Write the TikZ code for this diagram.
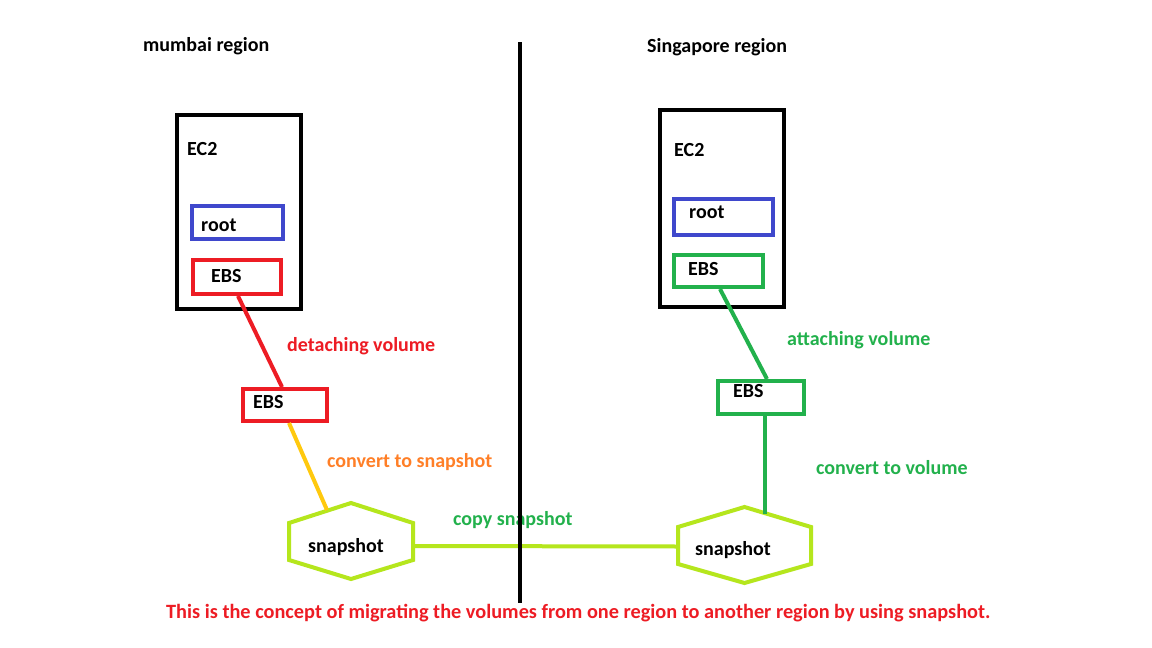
\documentclass[tikz,border=0pt]{standalone}
\usepackage{fontspec}
\setmainfont{Carlito}
\usepackage{xcolor}
\usetikzlibrary{calc}
\definecolor{pblack}{RGB}{0,0,0}
\definecolor{pblue}{RGB}{63,72,204}
\definecolor{pred}{RGB}{237,28,36}
\definecolor{pgreen}{RGB}{34,177,76}
\definecolor{plime}{RGB}{181,230,29}
\definecolor{pgold}{RGB}{255,201,14}
\definecolor{porange}{RGB}{255,127,39}
\tikzset{
	box/.style={draw, line width=4pt, inner sep=0pt},
	txt/.style={anchor=base west, inner sep=0pt, font=\fontsize{20}{22}\selectfont\bfseries},
	link/.style={line width=4pt}
}

\begin{document}
\begin{tikzpicture}[x=1pt, y=-1pt]
		\useasboundingbox[fill=white] (0, 0) rectangle (1152, 648);
		\node[box, pblack, minimum width=124pt, minimum height=194pt] (ec2L) at (239, 212) {};
		\node[box, pblack, minimum width=124pt, minimum height=197pt] (ec2R) at (722, 208.5) {};
		\node[box, pblue, minimum width=91pt, minimum height=33pt] (rootL) at (237.5, 222.5) {};
		\node[box, pblue, minimum width=99pt, minimum height=36pt] (rootR) at (723.5, 217) {};
		\node[box, pred, minimum width=88pt, minimum height=34pt] (ebsL) at (237, 277) {};
		\node[box, pgreen, minimum width=89pt, minimum height=32pt] (ebsR) at (718.5, 271) {};
		\node[box, pred, minimum width=84pt, minimum height=32pt] (ebsLB) at (285, 405) {};
		\node[box, pgreen, minimum width=86pt, minimum height=33pt] (ebsRB) at (761, 397.5) {};
		\coordinate (hexL) at (351, 541);
		\coordinate (hexR) at (744.5, 545);
		\draw[link, plime] ($(hexL)+(0,-38)$) -- ++(-62, 20) -- ++(0, 37) -- ++(62, 19) -- ++(62, -19) -- ++(0, -37) -- cycle;
		\draw[link, plime] ($(hexR)+(0,-38)$) -- ++(-66.5, 20) -- ++(0, 37) -- ++(66.5, 19) -- ++(66.5, -19) -- ++(0, -37) -- cycle;
		\draw[link, pred] ([xshift=1pt]ebsL.south) -- ([xshift=-3pt]ebsLB.north);
		\draw[link, pgold] ([xshift=4pt]ebsLB.south) -- ($(hexL)+(-24,-31)$);
		\draw[link, pgreen] ([xshift=1.5pt]ebsR.south) -- ([xshift=6pt]ebsRB.north);
		\draw[link, pgreen] ([xshift=4pt]ebsRB.south) -- ($(hexR)+(20.5,-31)$);
		\draw[link, plime] ($(hexL)+(62,5)$) -- ($(hexR)+(-66.5,1.5)$);
		\node[txt] (mumbai) at (143, 51) {mumbai region};
		\node[txt] (singapore) at (647, 52) {Singapore region};
		\node[txt] (ec2Ltxt) at (187, 155) {EC2};
		\node[txt] (ec2Rtxt) at (674, 156) {EC2};
		\node[txt] (rootLtxt) at (201, 231) {root};
		\node[txt] (rootRtxt) at (689, 218) {root};
		\node[txt] (ebsLtxt) at (211, 282) {EBS};
		\node[txt] (ebsRtxt) at (688, 275) {EBS};
		\node[txt] (ebsLBtxt) at (253, 408) {EBS};
		\node[txt] (ebsRBtxt) at (733, 397) {EBS};
		\node[txt, pred] (detach) at (287, 351) {detaching volume};
		\node[txt, porange] (tosnap) at (327, 467) {convert to snapshot};
		\node[txt] (snapLtxt) at (308, 552) {snapshot};
		\node[txt, pgreen] (copy) at (453, 525) {copy snapshot};
		\node[txt, pgreen] (attach) at (787, 345) {attaching volume};
		\node[txt, pgreen] (tovol) at (816, 474) {convert to volume};
		\node[txt] (snapRtxt) at (695, 555) {snapshot};
		\node[txt, pred, font=\fontsize{20.3}{22}\selectfont\bfseries] (caption) at (166, 618) {This is the concept of migrating the volumes from one region to another region by using snapshot.};
		\coordinate (divtop) at (520, 42);
		\coordinate (divbot) at (520, 603);
		\draw[line width=4.5pt, pblack] (divtop) -- (divbot);
	\end{tikzpicture}
\end{document}
